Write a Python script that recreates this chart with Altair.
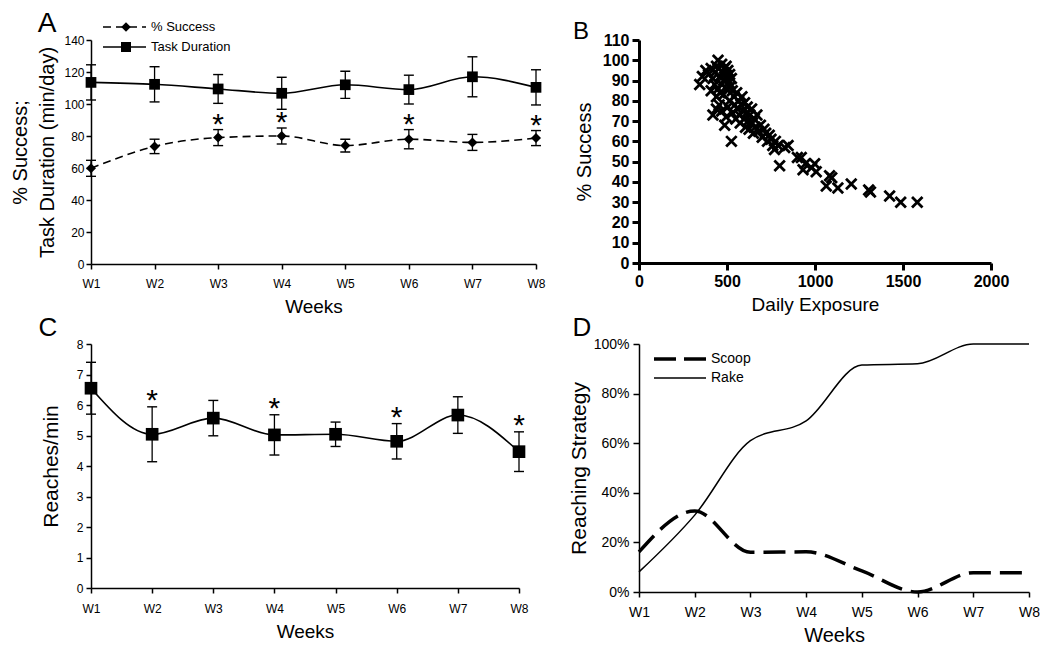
import altair as alt
import pandas as pd

FONT = "Liberation Sans"

# ---------------- data ----------------
weeks = [1, 2, 3, 4, 5, 6, 7, 8]

# Panel A
a_success = [59.8, 73.5, 79.0, 80.0, 74.0, 78.0, 76.0, 78.7]
a_success_err = [5.0, 4.5, 5.0, 5.0, 4.0, 6.0, 5.0, 4.7]
a_duration = [113.5, 112.3, 109.4, 106.7, 112.0, 109.0, 117.0, 110.4]
a_duration_err = [11.0, 11.0, 9.0, 10.0, 8.5, 9.0, 12.5, 11.0]
a_star_weeks = [3, 4, 6, 8]

# Panel B
b_exposure = [
    345, 360, 380, 395, 410, 420, 430, 440, 449, 455, 460, 470, 475, 480, 485, 490,
    495, 500, 505, 510, 515, 520, 525, 530, 500, 470, 450, 430, 410, 440, 460, 480,
    420, 440, 455, 470, 487, 495, 505, 515, 525, 530, 540, 545, 550, 555, 560, 565,
    570, 575, 580, 585, 590, 595, 600, 605, 610, 615, 620, 625, 630, 640, 645, 650,
    655, 660, 670, 680, 690, 700, 710, 720, 730, 740, 750, 760, 770, 775, 790, 799,
    828, 847, 900, 922, 932, 945, 980, 998, 1007, 1064, 1083, 1095, 1130, 1206, 1305,
    1315, 1424, 1487, 1581]
b_success = [
    88, 92, 95, 93, 96, 91, 94, 97, 100, 96, 92, 98, 94, 90, 96, 93,
    97, 91, 95, 89, 93, 87, 91, 85, 86, 88, 86, 88, 85, 82, 84, 83,
    73, 76, 78, 75, 68, 72, 77, 80, 60, 74, 82, 78, 71, 84, 76, 80,
    73, 69, 78, 82, 75, 71, 79, 67, 74, 77, 70, 66, 73, 76, 69, 64,
    71, 67, 73, 65, 68, 62, 66, 64, 60, 63, 61, 58, 56, 60, 58, 48,
    57, 58, 52, 52, 46, 49, 47, 49, 45, 38, 43, 42, 37, 39, 36,
    35, 33, 30, 30]

# Panel C
c_reaches = [6.55, 5.04, 5.57, 5.02, 5.04, 4.81, 5.67, 4.47]
c_err = [0.85, 0.9, 0.58, 0.66, 0.4, 0.58, 0.6, 0.65]
c_star_weeks = [2, 4, 6, 8]

# Panel D
d_scoop = [16.2, 32.7, 16.0, 16.2, 8.5, 0.0, 7.8, 7.8]
d_rake = [8.1, 31.0, 61.0, 69.0, 91.5, 92.0, 100.0, 100.0]

# ---------------- frames ----------------
dfa = pd.DataFrame({"week": weeks, "success": a_success, "s_err": a_success_err,
                    "duration": a_duration, "d_err": a_duration_err})
dfa["s_lo"] = dfa["success"] - dfa["s_err"]
dfa["s_hi"] = dfa["success"] + dfa["s_err"]
dfa["d_lo"] = dfa["duration"] - dfa["d_err"]
dfa["d_hi"] = dfa["duration"] + dfa["d_err"]
caps_a = pd.concat([
    pd.DataFrame({"week": weeks, "v": dfa["s_lo"]}),
    pd.DataFrame({"week": weeks, "v": dfa["s_hi"]}),
    pd.DataFrame({"week": weeks, "v": dfa["d_lo"]}),
    pd.DataFrame({"week": weeks, "v": dfa["d_hi"]}),
])
stars_a = dfa[dfa["week"].isin(a_star_weeks)]

dfb = pd.DataFrame({"exposure": b_exposure, "success": b_success})

dfc = pd.DataFrame({"week": weeks, "reaches": c_reaches, "err": c_err})
dfc["lo"] = dfc["reaches"] - dfc["err"]
dfc["hi"] = dfc["reaches"] + dfc["err"]
caps_c = pd.concat([pd.DataFrame({"week": weeks, "v": dfc["lo"]}),
                    pd.DataFrame({"week": weeks, "v": dfc["hi"]})])
stars_c = dfc[dfc["week"].isin(c_star_weeks)]

dfd = pd.DataFrame({"week": weeks, "scoop": d_scoop, "rake": d_rake})

one = pd.DataFrame({"k": [0]})

BLACK = "#000000"


def week_axis(label_size, label_pad, title_pad, title_size=19):
    return alt.Axis(values=weeks, labelExpr="'W' + datum.value", title="Weeks",
                    labelFontSize=label_size, labelPadding=label_pad, tickSize=5,
                    titleFontSize=title_size, titlePadding=title_pad,
                    domainWidth=1.5, tickWidth=1.5, labelFlush=False, labelOverlap=False)


def letter(txt, x, y, size=26):
    return alt.Chart(one).mark_text(font=FONT, fontSize=size, align="center",
                                    baseline="alphabetic", color=BLACK).encode(
        x=alt.value(x), y=alt.value(y), text=alt.value(txt))


# ---------------- Panel A ----------------
axA_x = week_axis(12, 9, 8)
axA_y = alt.Axis(values=list(range(0, 141, 20)),
                 title=["% Success;", "Task Duration (min/day)"],
                 titleFontSize=20, titleLineHeight=27, titlePadding=6,
                 labelFontSize=12, labelPadding=2, tickSize=5,
                 domainWidth=1.5, tickWidth=1.5, labelFlush=False)
sA = alt.Scale(domain=[0, 140], nice=False)
xA = alt.X("week:Q", scale=alt.Scale(domain=[1, 8], nice=False, zero=False), axis=axA_x)


def yA(f):
    return alt.Y(f"{f}:Q", scale=sA, axis=axA_y)


A = alt.layer(
    alt.Chart(dfa).mark_line(color=BLACK, strokeWidth=1.6, strokeDash=[8, 5],
                             interpolate="monotone").encode(x=xA, y=yA("success")),
    alt.Chart(dfa).mark_line(color=BLACK, strokeWidth=1.6,
                             interpolate="monotone").encode(x=xA, y=yA("duration")),
    alt.Chart(dfa).mark_rule(color=BLACK, strokeWidth=1.3).encode(x=xA, y=yA("s_lo"), y2="s_hi"),
    alt.Chart(dfa).mark_rule(color=BLACK, strokeWidth=1.3).encode(x=xA, y=yA("d_lo"), y2="d_hi"),
    alt.Chart(caps_a).mark_tick(orient="horizontal", color=BLACK, size=10,
                                thickness=1.4, opacity=1).encode(x=xA, y=yA("v")),
    alt.Chart(dfa).mark_point(shape="diamond", filled=True, size=100, color=BLACK,
                              opacity=1).encode(x=xA, y=yA("success")),
    alt.Chart(dfa).mark_point(shape="square", filled=True, size=115, color=BLACK,
                              opacity=1).encode(x=xA, y=yA("duration")),
    alt.Chart(stars_a).mark_text(font=FONT, fontSize=30, baseline="alphabetic", dy=4,
                                 color=BLACK).encode(x=xA, y=yA("s_hi"), text=alt.value("*")),
    # legend
    alt.Chart(one).mark_rule(color=BLACK, strokeWidth=1.6, strokeDash=[8, 5]).encode(
        x=alt.value(12), x2=alt.value(55), y=alt.value(-13)),
    alt.Chart(one).mark_point(shape="diamond", filled=True, size=90, color=BLACK, opacity=1).encode(
        x=alt.value(35), y=alt.value(-13)),
    alt.Chart(one).mark_text(font=FONT, fontSize=13, align="left", baseline="middle", color=BLACK).encode(
        x=alt.value(60), y=alt.value(-13), text=alt.value("% Success")),
    alt.Chart(one).mark_rule(color=BLACK, strokeWidth=1.6).encode(
        x=alt.value(12), x2=alt.value(55), y=alt.value(7)),
    alt.Chart(one).mark_point(shape="square", filled=True, size=100, color=BLACK, opacity=1).encode(
        x=alt.value(35), y=alt.value(7)),
    alt.Chart(one).mark_text(font=FONT, fontSize=13, align="left", baseline="middle", color=BLACK).encode(
        x=alt.value(60), y=alt.value(7), text=alt.value("Task Duration")),
    letter("A", -44, -8, 28),
).properties(width=445, height=224)

# ---------------- Panel B ----------------
axB_x = alt.Axis(values=[0, 500, 1000, 1500, 2000], format="d", title="Daily Exposure",
                 labelFontSize=16, labelFontWeight="bold", labelPadding=3, tickSize=7,
                 domainWidth=3, tickWidth=3, titleFontSize=19, titlePadding=6,
                 labelFlush=False, labelOverlap=False)
axB_y = alt.Axis(values=list(range(0, 111, 10)), format="d", title="% Success",
                 labelFontSize=16, labelFontWeight="bold", labelPadding=3, tickSize=7,
                 domainWidth=3, tickWidth=3, titleFontSize=20, titlePadding=8,
                 labelFlush=False, labelOverlap=False)
B = alt.layer(
    alt.Chart(dfb).mark_point(shape="M-1,-1L1,1M-1,1L1,-1", size=110, strokeWidth=2.8,
                              color=BLACK, filled=False, opacity=1).encode(
        x=alt.X("exposure:Q", scale=alt.Scale(domain=[0, 2000], nice=False), axis=axB_x),
        y=alt.Y("success:Q", scale=alt.Scale(domain=[0, 110], nice=False), axis=axB_y)),
    letter("B", -58, -1, 24),
).properties(width=352, height=223)

# ---------------- Panel C ----------------
axC_x = week_axis(12, 10, 8)
axC_y = alt.Axis(values=list(range(0, 9)), title="Reaches/min",
                 titleFontSize=21, titlePadding=15, labelFontSize=12, labelPadding=3,
                 tickSize=5, domainWidth=1.5, tickWidth=1.5, labelFlush=False)
sC = alt.Scale(domain=[0, 8], nice=False)
xC = alt.X("week:Q", scale=alt.Scale(domain=[1, 8], nice=False, zero=False, range=[0, 428]),
           axis=axC_x)


def yC(f):
    return alt.Y(f"{f}:Q", scale=sC, axis=axC_y)


C = alt.layer(
    alt.Chart(dfc).mark_line(color=BLACK, strokeWidth=1.6,
                             interpolate="monotone").encode(x=xC, y=yC("reaches")),
    alt.Chart(dfc).mark_rule(color=BLACK, strokeWidth=1.3).encode(x=xC, y=yC("lo"), y2="hi"),
    alt.Chart(caps_c).mark_tick(orient="horizontal", color=BLACK, size=10,
                                thickness=1.4, opacity=1).encode(x=xC, y=yC("v")),
    alt.Chart(dfc).mark_point(shape="square", filled=True, size=160, color=BLACK,
                              opacity=1).encode(x=xC, y=yC("reaches")),
    alt.Chart(stars_c).mark_text(font=FONT, fontSize=30, baseline="alphabetic", dy=3,
                                 color=BLACK).encode(x=xC, y=yC("hi"), text=alt.value("*")),
    letter("C", -43, -8, 26),
).properties(width=442, height=244)

# ---------------- Panel D ----------------
axD_x = week_axis(14, 8, 6, 20)
axD_y = alt.Axis(values=[0, 20, 40, 60, 80, 100], labelExpr="datum.value + '%'",
                 title="Reaching Strategy", titleFontSize=21, titlePadding=4,
                 labelFontSize=14, labelPadding=4, tickSize=6,
                 domainWidth=1.5, tickWidth=1.5, labelFlush=False)
sD = alt.Scale(domain=[0, 100], nice=False)
xD = alt.X("week:Q", scale=alt.Scale(domain=[1, 8], nice=False, zero=False), axis=axD_x)


def yD(f):
    return alt.Y(f"{f}:Q", scale=sD, axis=axD_y)


D = alt.layer(
    alt.Chart(dfd).mark_line(color=BLACK, strokeWidth=3.5, strokeDash=[22, 9],
                             interpolate="monotone").encode(x=xD, y=yD("scoop")),
    alt.Chart(dfd).mark_line(color=BLACK, strokeWidth=1.5,
                             interpolate="monotone").encode(x=xD, y=yD("rake")),
    alt.Chart(one).mark_rule(color=BLACK, strokeWidth=3.5, strokeDash=[22, 8]).encode(
        x=alt.value(15), x2=alt.value(67), y=alt.value(15)),
    alt.Chart(one).mark_text(font=FONT, fontSize=14, align="left", baseline="middle", color=BLACK).encode(
        x=alt.value(72), y=alt.value(15), text=alt.value("Scoop")),
    alt.Chart(one).mark_rule(color=BLACK, strokeWidth=1.5).encode(
        x=alt.value(15), x2=alt.value(67), y=alt.value(34)),
    alt.Chart(one).mark_text(font=FONT, fontSize=14, align="left", baseline="middle", color=BLACK).encode(
        x=alt.value(72), y=alt.value(34), text=alt.value("Rake")),
    letter("D", -57, -8, 26),
).properties(width=390, height=248)

chart = alt.concat(
    A, B, C, D, columns=2, spacing={"row": 80, "column": 103},
    bounds="flush", align="none"
).properties(
    padding={"left": 2, "top": 2, "right": 0, "bottom": 2},
    background="white",
).configure_view(stroke=None).configure_axis(
    labelFont=FONT, titleFont=FONT, labelColor=BLACK, titleColor=BLACK,
    domainColor=BLACK, tickColor=BLACK, grid=False, titleFontWeight="normal"
)

chart.save("out.html", embed_options={"renderer": "svg", "actions": False})
